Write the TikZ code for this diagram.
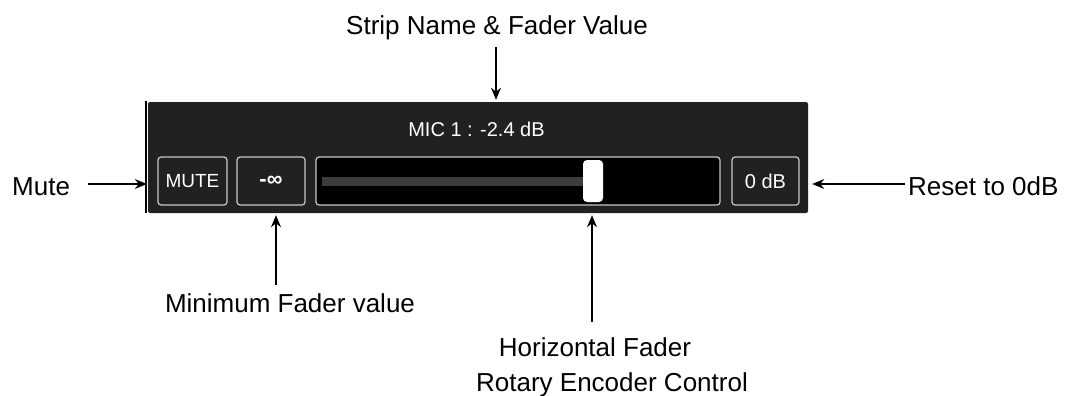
\documentclass[tikz,border=0pt]{standalone}
\usepackage{fontspec}
\setmainfont{Liberation Sans}
\usetikzlibrary{arrows.meta}
\definecolor{panelgrey}{HTML}{212121}
\definecolor{edgegrey}{HTML}{C8C8C8}
\definecolor{trackgrey}{HTML}{3C3C3C}

\begin{document}
\begin{tikzpicture}[x=1pt,y=-1pt,
		lbl/.style={font=\fontsize{26}{30}\selectfont,inner sep=0pt},
		btn/.style={draw=edgegrey,line width=1.2pt,rounded corners=3pt,fill=panelgrey,text=white,inner sep=0pt,minimum height=48pt,font=\fontsize{19}{21}\selectfont},
		arr/.style={-{Stealth[length=12pt,width=10pt]},line width=1.4pt}]
	\useasboundingbox (0,0) rectangle (1073,396);
		\begin{scope}
			% strip panel
			\node[fill=panelgrey,rounded corners=2pt,minimum width=660pt,minimum height=111pt,inner sep=0pt] (panel) at (478,157.5) {};
			\draw[line width=1.5pt] (146,101) -- (146,213);
			\node[text=white,font=\fontsize{20}{22}\selectfont,anchor=base] (title) at (476.5,136.5) {MIC 1 : -2.4 dB};
			\node[btn,minimum width=69pt] (mute) at (192.5,181) {MUTE};
			\node[btn,minimum width=68pt,font=\bfseries\fontsize{22}{24}\selectfont] (minus) at (271,181) {-∞};
			\node[btn,minimum width=404pt,fill=black] (fader) at (518,181) {};
			\node[btn,minimum width=67pt,font=\fontsize{20}{22}\selectfont] (zero) at (765.5,181) {0 dB};
			\fill[trackgrey] (322,177) rectangle (588,186);
			\node[fill=white,rounded corners=4pt,minimum width=20pt,minimum height=42pt,inner sep=0pt] (knob) at (593,181) {};
		\end{scope}
		\begin{scope}
			% callouts
			\node[lbl,anchor=base] (lstrip) at (497,35) {Strip Name \& Fader Value};
			\node[lbl,anchor=base west] (lmute) at (12,195) {Mute};
			\node[lbl,anchor=base west] (lreset) at (908,195) {Reset to 0dB};
			\node[lbl,anchor=base] (lmin) at (290,312) {Minimum Fader value};
			\node[lbl,anchor=base] (lhor) at (595,356) {Horizontal Fader};
			\node[lbl,anchor=base] (lrot) at (612,391) {Rotary Encoder Control};
			\coordinate (striptail) at (496,47);
			\coordinate (mutetail) at (88,184);
			\coordinate (resettail) at (905,184);
			\coordinate (mintail) at (276,285);
			\coordinate (hortail) at (592,322);
			\draw[arr,shorten >=2pt] (striptail) -- (striptail |- panel.north);
			\draw[arr,shorten >=1pt] (mutetail) -- (mutetail -| panel.west);
			\draw[arr,shorten >=4pt] (resettail) -- (resettail -| panel.east);
			\draw[arr,shorten >=2pt] (mintail) -- (mintail |- panel.south);
			\draw[arr,shorten >=2pt] (hortail) -- (hortail |- panel.south);
		\end{scope}
	\end{tikzpicture}
\end{document}
